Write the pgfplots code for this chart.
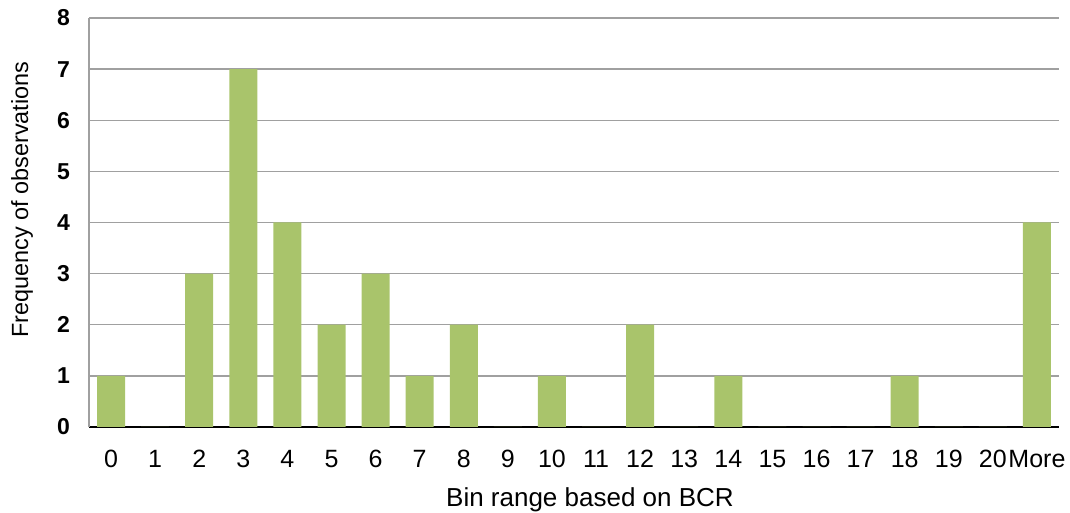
\documentclass[border=0pt]{standalone}
\usepackage{fontspec}
\setmainfont{Liberation Sans}
\usepackage{pgfplots}
\pgfplotsset{compat=1.18}
\usetikzlibrary{calc}
\definecolor{bargreen}{HTML}{A9C46B}
\definecolor{gridgray}{HTML}{A0A0A0}
\begin{document}
\begin{tikzpicture}
\begin{axis}[name=ax,
  scale only axis, width=485pt, height=204.5pt,
  xmin=-0.5, xmax=21.5, ymin=0, ymax=8,
  xtick={0,...,21},
  xticklabels={0,1,2,3,4,5,6,7,8,9,10,11,12,13,14,15,16,17,18,19,20,More},
  ytick={0,...,8},
  yticklabel style={font=\fontsize{11.5}{13}\selectfont\bfseries},
  xticklabel style={font=\fontsize{12.5}{14}\selectfont},
  /pgf/number format/assume math mode=true,
  major tick length=0pt,
  ymajorgrids, grid style={gridgray, line width=0.7pt},
  axis x line*=bottom, axis y line*=left,
  x axis line style={black, line width=0.8pt, -},
  y axis line style={gridgray, line width=0.8pt, -},
  xticklabel shift=8pt, yticklabel shift=6pt,
  xlabel={Bin range based on BCR},
  ylabel={Frequency of observations},
  xlabel style={font=\fontsize{13}{15}\selectfont, at={(axis description cs:0.5,0)}, anchor=center, yshift=-36.5pt, xshift=8pt},
  ylabel style={font=\fontsize{11.7}{14}\selectfont, at={(axis description cs:0,0.5)}, anchor=center, yshift=33.5pt, xshift=11.5pt},
]
\addplot[ybar, bar width=14pt, fill=bargreen, draw=none] coordinates {
(0,1) (1,0) (2,3) (3,7) (4,4) (5,2) (6,3) (7,1) (8,2) (9,0) (10,1)
(11,0) (12,2) (13,0) (14,1) (15,0) (16,0) (17,0) (18,1) (19,0) (20,0) (21,4)};
\end{axis}
\pgfresetboundingbox
\path[use as bounding box] ($(ax.south west)+(-44.5pt,-43pt)$) rectangle ($(ax.north east)+(5.5pt,9pt)$);
\end{tikzpicture}
\end{document}
